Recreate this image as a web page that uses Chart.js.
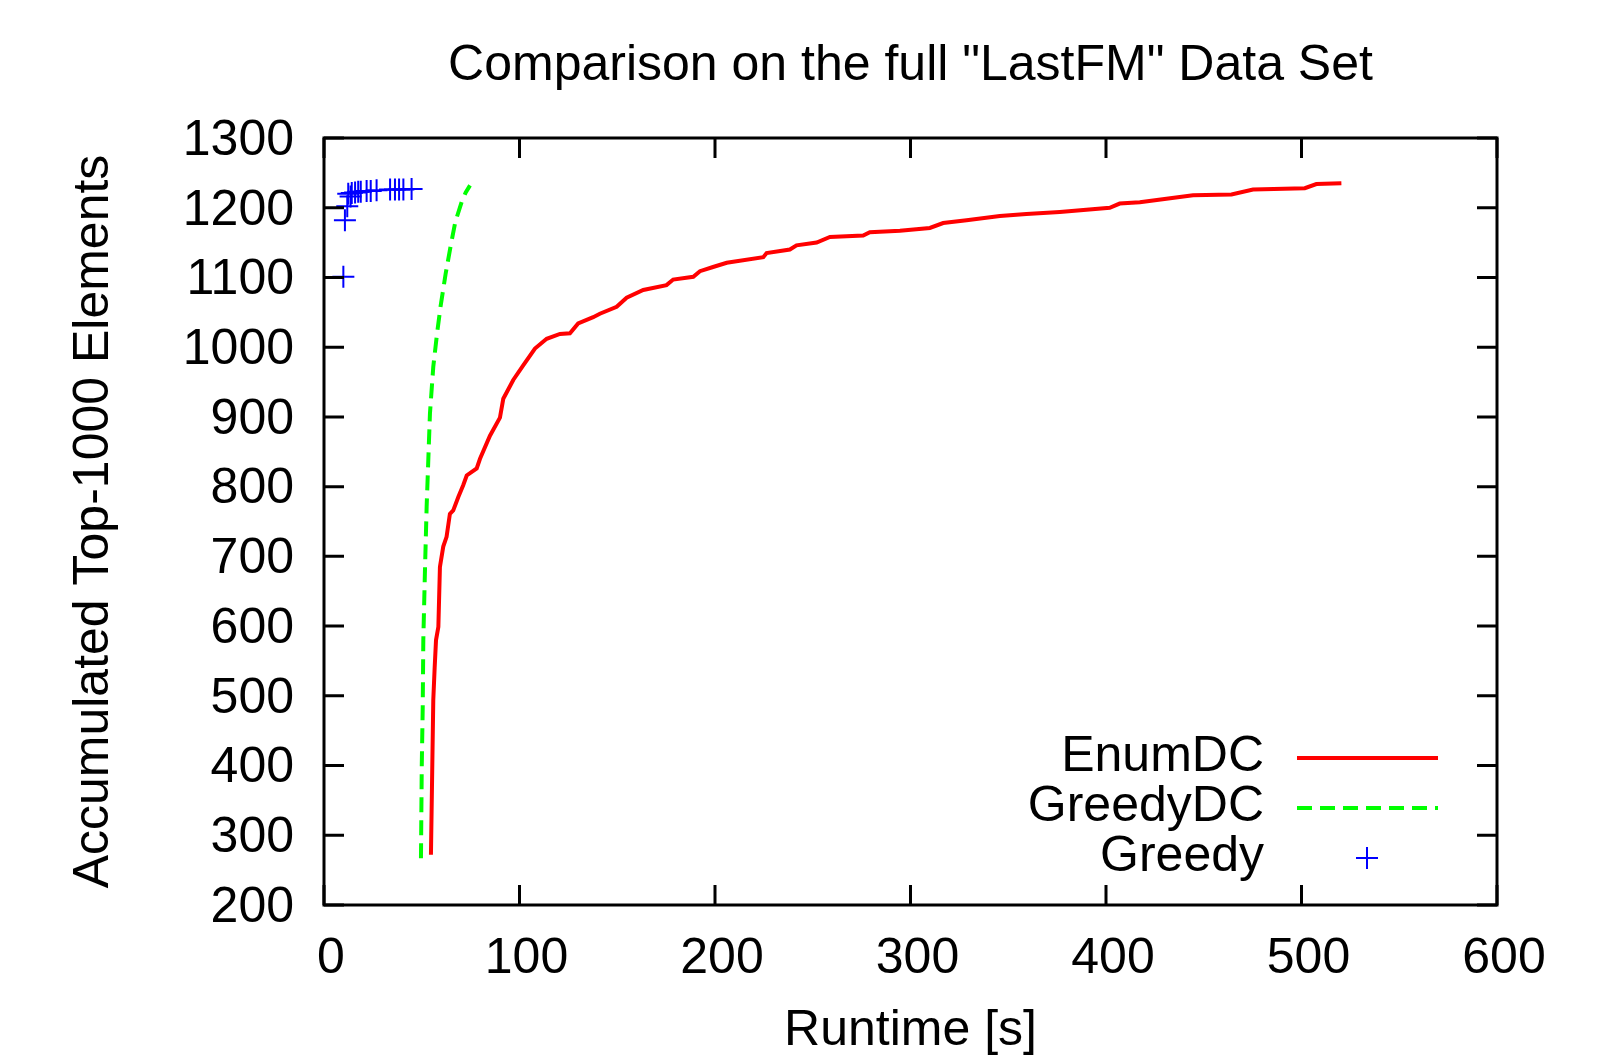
<!DOCTYPE html>
<html>
<head>
<meta charset="utf-8">
<title>Comparison on the full "LastFM" Data Set</title>
<script src="https://cdn.jsdelivr.net/npm/chart.js@4.4.1/dist/chart.umd.min.js"></script>
<style>
  html, body { margin: 0; padding: 0; background: #fff; }
  #wrap { position: relative; width: 1609px; height: 1061px; }
</style>
</head>
<body>
<div id="wrap"><canvas id="canvas"></canvas></div>
<script>
// Values (runtime in s, accumulated top-1000 elements)
const enumDcX = [54.7, 55.9, 56.6, 57.3, 58.5, 59.3, 61.0, 62.7, 64.4, 66.1, 68.7, 71.2, 73.0, 78.1, 79.8, 84.9, 90.0, 91.7, 96.8, 101.9,
                 107.9, 113.9, 120.7, 125.8, 130.0, 137.7, 141.1, 149.7, 154.8, 163.3, 175.2, 178.6, 188.9, 192.3, 199.0, 206.0, 224.7,
                 226.4, 238.3, 241.7, 252.0, 258.8, 275.8, 279.2, 294.6, 309.9, 316.7, 328.7, 345.7, 359.3, 376.4, 401.9, 407.0,
                 417.3, 430.9, 444.5, 464.2, 475.2, 501.7, 507.6, 520.4];
const enumDcY = [272, 494, 540, 580, 599, 685, 714, 728, 761, 766, 785, 802, 816, 826, 840, 873, 899, 926, 953, 974,
                 998, 1012, 1019, 1020, 1034, 1043, 1048, 1058, 1071, 1082, 1089, 1097, 1101, 1109, 1115, 1121, 1129,
                 1135, 1140, 1146, 1150, 1158, 1160, 1165, 1167, 1171, 1178, 1182, 1188, 1191, 1194, 1200, 1206,
                 1208, 1213, 1218, 1219, 1226, 1228, 1234, 1235];

const greedyDcX = [49.6, 50.0, 50.5, 50.8, 51.6, 52.5, 53.5, 54.2, 55.9, 57.8, 59.6, 62.2, 64.7, 67.2, 70.4, 72.5, 74.7];
const greedyDcY = [267, 398, 484, 580, 675, 771, 850, 905, 972, 1019, 1058, 1105, 1144, 1180, 1208, 1222, 1232];

const greedyX = [9.9, 10.7, 11.9, 13.6, 12.4, 14.2, 15.9, 17.5, 18.8, 21.8, 23.9, 26.9, 33.8, 36.3, 38.4, 40.6, 44.8];
const greedyY = [1101, 1182, 1202, 1216, 1220, 1221, 1222, 1223, 1223, 1224, 1224, 1225, 1226, 1226, 1226, 1226, 1227];

const seriesLabels = ['EnumDC', 'GreedyDC', 'Greedy'];
const xTickValues = [0, 100, 200, 300, 400, 500, 600];
const yTickValues = [200, 300, 400, 500, 600, 700, 800, 900, 1000, 1100, 1200, 1300];
const chartTitle = 'Comparison on the full "LastFM" Data Set';

const FONT = '"Liberation Sans", Arial, Helvetica, sans-serif';
const FONT_SIZE = 50;

function toPoints(xs, ys) {
    return xs.map((x, i) => ({ x: x, y: ys[i] }));
}

// title centred over the plot area, like gnuplot does
const plotTitle = {
    id: 'plotTitle',
    afterDraw(chart) {
        const { ctx, chartArea: a } = chart;
        ctx.save();
        ctx.font = FONT_SIZE + 'px ' + FONT;
        ctx.fillStyle = '#000';
        ctx.textAlign = 'center';
        ctx.textBaseline = 'middle';
        ctx.fillText(chartTitle, (a.left + a.right) / 2, 66);
        ctx.restore();
    }
};

// gnuplot-style frame with inward ticks on all four sides
const frameTicks = {
    id: 'frameTicks',
    afterDraw(chart) {
        const { ctx, chartArea: a, scales } = chart;
        const len = 20;
        ctx.save();
        ctx.strokeStyle = '#000';
        ctx.lineWidth = 3;
        ctx.beginPath();
        xTickValues.forEach(v => {
            const px = scales.x.getPixelForValue(v);
            ctx.moveTo(px, a.bottom); ctx.lineTo(px, a.bottom - len);
            ctx.moveTo(px, a.top); ctx.lineTo(px, a.top + len);
        });
        yTickValues.forEach(v => {
            const py = scales.y.getPixelForValue(v);
            ctx.moveTo(a.left, py); ctx.lineTo(a.left + len, py);
            ctx.moveTo(a.right, py); ctx.lineTo(a.right - len, py);
        });
        ctx.stroke();
        ctx.strokeRect(a.left, a.top, a.right - a.left, a.bottom - a.top);
        ctx.restore();
    }
};

// legend inside the plot, text right-aligned with the sample to its right
const insideLegend = {
    id: 'insideLegend',
    afterDatasetsDraw(chart) {
        const { ctx, chartArea: a } = chart;
        ctx.save();
        ctx.font = FONT_SIZE + 'px ' + FONT;
        ctx.textAlign = 'right';
        ctx.textBaseline = 'middle';
        chart.data.datasets.forEach((ds, i) => {
            const y = a.bottom - 147 + i * 50;
            ctx.fillStyle = '#000';
            ctx.fillText(ds.label, a.right - 233, y - 1);
            ctx.strokeStyle = ds.borderColor;
            if (ds.showLine) {
                ctx.lineWidth = ds.borderWidth;
                ctx.setLineDash(ds.borderDash || []);
                ctx.beginPath();
                ctx.moveTo(a.right - 200, y); ctx.lineTo(a.right - 59, y);
                ctx.stroke();
                ctx.setLineDash([]);
            } else {
                const cx = a.right - 130, r = ds.pointRadius;
                ctx.lineWidth = ds.pointBorderWidth;
                ctx.beginPath();
                ctx.moveTo(cx - r, y); ctx.lineTo(cx + r, y);
                ctx.moveTo(cx, y - r); ctx.lineTo(cx, y + r);
                ctx.stroke();
            }
        });
        ctx.restore();
    }
};

const ctx = document.getElementById('canvas').getContext('2d');
const chart = new Chart(ctx, {
    type: 'scatter',
    data: {
        datasets: [
            { label: seriesLabels[0], data: toPoints(enumDcX, enumDcY), showLine: true, borderColor: '#ff0000',
              borderWidth: 4, pointRadius: 0, fill: false, tension: 0 },
            { label: seriesLabels[1], data: toPoints(greedyDcX, greedyDcY), showLine: true, borderColor: '#00ff00',
              borderWidth: 4, borderDash: [15, 8], pointRadius: 0, fill: false, tension: 0 },
            { label: seriesLabels[2], data: toPoints(greedyX, greedyY), showLine: false, borderColor: '#0000ff',
              backgroundColor: '#0000ff', pointStyle: 'cross', pointRadius: 11, pointBorderWidth: 2 }
        ]
    },
    options: {
        responsive: true,
        maintainAspectRatio: false,
        animation: false,
        events: [],
        layout: { padding: { left: 0, right: 112, top: 138, bottom: 0 } },
        plugins: {
            legend: { display: false },
            tooltip: { enabled: false },
            title: { display: false }
        },
        scales: {
            x: {
                type: 'linear', min: 0, max: 600,
                grid: { display: false, drawTicks: false },
                border: { display: false },
                afterBuildTicks: s => { s.ticks = xTickValues.map(v => ({ value: v })); },
                afterFit: s => { s.height = 156; },
                ticks: { color: '#000', padding: 24, labelOffset: 7, maxRotation: 0,
                         callback: v => String(v),
                         font: { family: FONT, size: FONT_SIZE, lineHeight: 1.2 } },
                title: { display: true, text: 'Runtime [s]', color: '#000', padding: { top: 0, bottom: 0 },
                         font: { family: FONT, size: FONT_SIZE, lineHeight: 1.2 } }
            },
            y: {
                type: 'linear', min: 200, max: 1300,
                grid: { display: false, drawTicks: false },
                border: { display: false },
                afterBuildTicks: s => { s.ticks = yTickValues.map(v => ({ value: v })); },
                afterFit: s => { s.width = 324; },
                ticks: { color: '#000', padding: 30, labelOffset: 3,
                         callback: v => String(v),
                         font: { family: FONT, size: FONT_SIZE, lineHeight: 1.2 } },
                title: { display: true, text: 'Accumulated Top-1000 Elements', color: '#000', padding: { top: 64, bottom: 0 },
                         font: { family: FONT, size: FONT_SIZE, lineHeight: 1.2 } }
            }
        }
    },
    plugins: [insideLegend, frameTicks, plotTitle]
});
</script>
</body>
</html>
